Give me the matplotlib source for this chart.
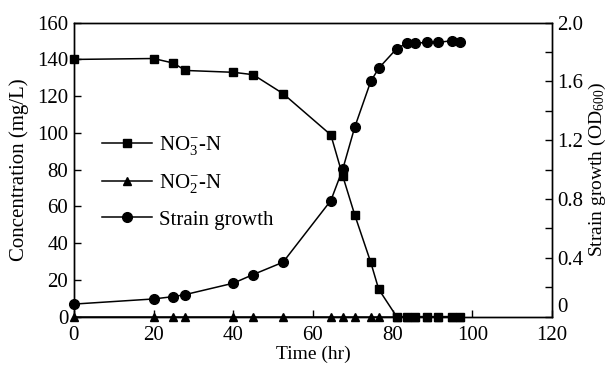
import matplotlib

matplotlib.use("Agg")
import matplotlib.pyplot as plt
from matplotlib.ticker import FuncFormatter, MultipleLocator

plt.rcParams["font.family"] = ["Liberation Serif", "DejaVu Serif"]
plt.rcParams["mathtext.fontset"] = "custom"
plt.rcParams["mathtext.rm"] = "Liberation Serif"
plt.rcParams["mathtext.it"] = "Liberation Serif:italic"

# sampling times (hr)
time_hr = [0, 20, 25, 28, 40, 45, 52.5, 64.5, 67.5, 70.5, 74.5, 76.5,
           81, 83.5, 85.5, 88.5, 91.5, 95, 97]
# nitrate / nitrite concentration (mg/L)
no3 = [140, 140.5, 138, 134, 133, 131.7, 121.4, 98.9, 76.4, 55.3, 29.6, 14.9,
       0, 0, 0, 0, 0, 0, 0]
no2 = [0, 0, 0, 0, 0, 0, 0, 0, 0, 0, 0, 0,
       0, 0, 0, 0, 0, 0, 0]
# strain growth (OD600)
od600 = [0.085, 0.12, 0.136, 0.15, 0.227, 0.286, 0.37, 0.79, 1.005, 1.29, 1.6, 1.69,
         1.823, 1.86, 1.86, 1.866, 1.866, 1.878, 1.87]

FS = 15

fig = plt.figure(figsize=(6.1, 3.66), dpi=100)
ax = fig.add_axes([0.121, 0.135, 0.784, 0.803])
ax2 = ax.twinx()

l_no2, = ax.plot(time_hr, no2, "-^", color="black", lw=1.1, ms=5.5,
                 clip_on=False, zorder=3, label="NO$_2^{-}$-N")
l_no3, = ax.plot(time_hr, no3, "-s", color="black", lw=1.1, ms=5.5,
                 clip_on=False, zorder=4, label="NO$_3^{-}$-N")
l_od, = ax2.plot(time_hr, od600, "-o", color="black", lw=1.1, ms=7,
                 clip_on=False, zorder=4, label="Strain growth")

ax.set_xlim(0, 120)
ax.set_ylim(0, 160)
ax2.set_ylim(0, 2.0)
ax.xaxis.set_major_locator(MultipleLocator(20))
ax.yaxis.set_major_locator(MultipleLocator(20))
ax2.yaxis.set_major_locator(MultipleLocator(0.2))


def _od_fmt(v, pos):
    k = round(v / 0.2)
    if k % 2:
        return ""
    if k == 0:
        return "0"
    return f"{v:.1f}"


ax2.yaxis.set_major_formatter(FuncFormatter(_od_fmt))

for a in (ax, ax2):
    a.tick_params(direction="in", length=5, width=1, labelsize=FS, pad=4)
    for s in a.spines.values():
        s.set_linewidth(1.0)
ax.tick_params(axis="x", pad=7)

ax.set_xlabel("Time (hr)", fontsize=14, labelpad=0)
ax.set_ylabel("Concentration (mg/L)", fontsize=FS, labelpad=6)
ax2.set_ylabel("Strain growth (OD$_{600}$)", fontsize=14, labelpad=2)

ax.legend([l_no3, l_no2, l_od], [l_no3.get_label(), l_no2.get_label(), l_od.get_label()],
          loc="upper left", bbox_to_anchor=(0.02, 0.685), frameon=False,
          fontsize=FS, handlelength=2.4, labelspacing=0.72, handletextpad=0.35)

# right-hand "0" sits just above its tick, clear of the "120" below it
fig.canvas.draw()
for lbl in ax2.get_yticklabels():
    if lbl.get_text() == "0":
        lbl.set_va("bottom")

fig.savefig("out.png", dpi=100)
